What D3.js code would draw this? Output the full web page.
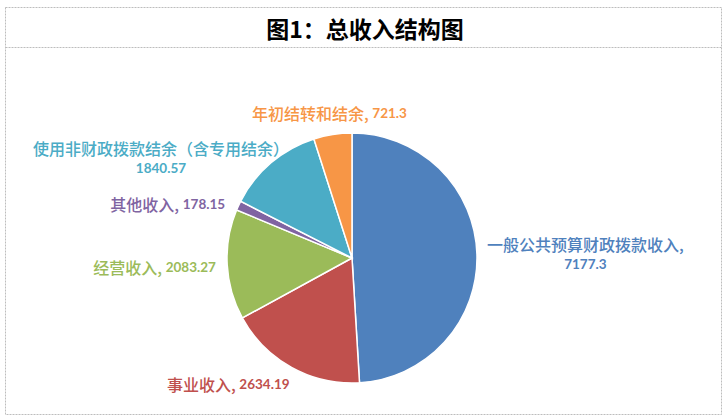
<!DOCTYPE html>
<html lang="zh">
<head>
  <meta charset="UTF-8">
  <title>总收入结构图</title>
  <style>
    body { margin: 0; background: #fff; }
    svg { display: block; }
  </style>
</head>
<body>
  <svg id="chart" width="728" height="420"></svg>

  <script src="https://d3js.org/d3.v7.min.js"></script>
  <script>
    // data
    const categories = ["一般公共预算财政拨款收入", "事业收入", "经营收入", "其他收入",
                        "使用非财政拨款结余（含专用结余）", "年初结转和结余"];
    const values = [7177.3, 2634.19, 2083.27, 178.15, 1840.57, 721.3];
    const valueLabels = ["7177.3", "2634.19", "2083.27", "178.15", "1840.57", "721.3"];
    const colors = ["#4F81BD", "#C0504D", "#9BBB59", "#8064A2", "#4BACC6", "#F79646"];
    const titleText = "图1：总收入结构图";

    // label layout: radius factor, and whether the value goes on a second line
    const labelRadius = [1.08, 1.13, 1.09, 1.1, 1.05, 1.17];
    const labelTwoLines = [true, false, false, false, true, false];
    const labelNudge = [[0, 0], [6, 2], [0, 2], [-2, 4], [22, 0], [0, 0]];

    const W = 728, H = 420;
    const svg = d3.select("#chart");

    // frame
    const frame = svg.append("g")
      .attr("fill", "none")
      .attr("stroke", "#bdbdbd")
      .attr("stroke-dasharray", "2,1");
    frame.append("rect").attr("x", 5.5).attr("y", 7.5).attr("width", 716).attr("height", 407);
    frame.append("line").attr("x1", 5.5).attr("x2", 721.5).attr("y1", 47.5).attr("y2", 47.5);

    svg.append("text")
      .attr("x", 365)
      .attr("y", 28)
      .attr("text-anchor", "middle")
      .attr("dominant-baseline", "central")
      .attr("font-family", "'Noto Sans CJK SC', sans-serif")
      .attr("font-weight", "bold")
      .attr("font-size", 23)
      .attr("fill", "#000")
      .text(titleText);

    // pie
    const cx = 352, cy = 258, r = 125;
    const pie = d3.pie().sort(null).value(d => d)(values);
    const arc = d3.arc().innerRadius(0).outerRadius(r);

    const g = svg.append("g").attr("transform", `translate(${cx},${cy})`);

    g.selectAll("path")
      .data(pie)
      .enter()
      .append("path")
      .attr("d", arc)
      .attr("fill", (d, i) => colors[i])
      .attr("stroke", "#fff")
      .attr("stroke-width", 1.5);

    // labels
    const cjkFont = "'Noto Sans CJK SC', sans-serif";
    const numFont = "Lato, 'Open Sans', sans-serif";

    pie.forEach((d, i) => {
      const mid = (d.startAngle + d.endAngle) / 2;
      const k = labelRadius[i] * r;
      const px = Math.sin(mid) * k + labelNudge[i][0];
      const py = -Math.cos(mid) * k + labelNudge[i][1];

      const lg = g.append("g").attr("fill", colors[i]);
      const lines = labelTwoLines[i]
        ? [[categories[i] + (i === 0 ? "," : ""), null], [null, valueLabels[i]]]
        : [[categories[i] + ", ", valueLabels[i]]];
      const lh = 20;

      lines.forEach((ln, j) => {
        const t = lg.append("text")
          .attr("x", 0)
          .attr("y", (j - (lines.length - 1) / 2) * lh)
          .attr("text-anchor", "middle")
          .attr("dominant-baseline", "central");
        if (ln[0] !== null) {
          t.append("tspan").attr("font-family", cjkFont).attr("font-weight", 500)
            .attr("font-size", 16).text(ln[0]);
        }
        if (ln[1] !== null) {
          t.append("tspan").attr("font-family", numFont).attr("font-weight", "bold")
            .attr("font-size", 13.5).text(ln[1]);
        }
      });

      const bb = lg.node().getBBox();
      const s = Math.sin(mid);
      let tx;
      if (Math.abs(s) < 0.3) tx = px;                 // near top / bottom: centred
      else if (s > 0) tx = px + bb.width / 2;          // right side: left edge at anchor
      else tx = px - bb.width / 2;                     // left side: right edge at anchor
      lg.attr("transform", `translate(${tx},${py})`);
    });
  </script>
</body>
</html>
